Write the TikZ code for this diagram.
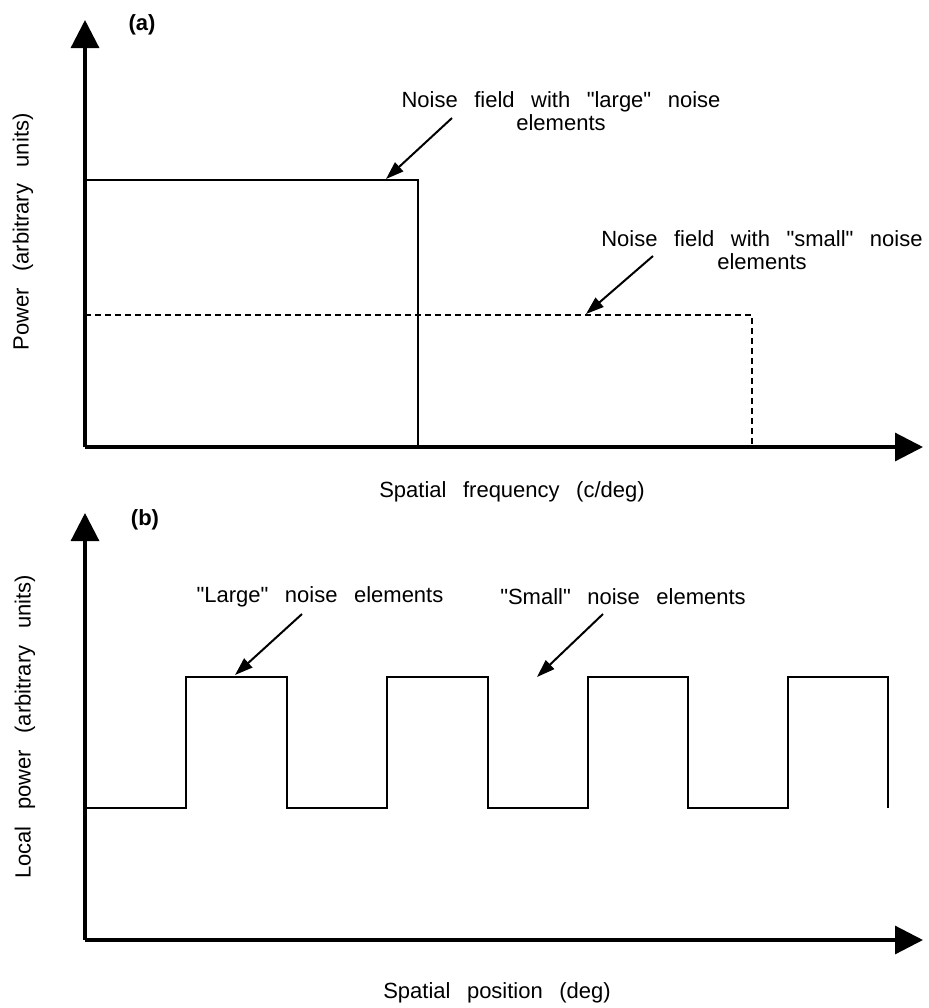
\documentclass[tikz,border=0pt]{standalone}
\usepackage{fontspec}
\setmainfont{Liberation Sans}[WordSpace=2.7,Ligatures=TeXOff]
\usetikzlibrary{arrows.meta}

\begin{document}
\begin{tikzpicture}[x=0.5pt,y=-0.5pt,font=\fontsize{11}{11.5}\selectfont]
    \tikzstyle{axis}=[line width=1.6pt,-{Triangle[width=14pt,length=14pt]}]
    \tikzstyle{trace}=[line width=1pt]
    \tikzstyle{broad}=[trace,dash pattern=on 3pt off 2pt]
    \tikzstyle{pointer}=[line width=1pt,-{Triangle[width=6pt,length=9pt]}]
    \tikzstyle{annot}=[align=center,inner sep=0pt]
    \tikzstyle{panel}=[inner sep=0pt,font=\fontsize{11}{11}\selectfont\bfseries]

    \useasboundingbox (0,0) rectangle (928,1008);

    % Panel (a): the two power spectra
    \coordinate (Oa) at (85,447);
    \coordinate (Ya) at (85,20);
    \coordinate (Xa) at (923,447);
    \draw[axis] (Oa) -- (Ya);
    \draw[axis] (Oa) -- (Xa);
    \node[panel] (a) at (142,25) {(a)};

    % Narrow band (large elements) and broad band (small elements)
    \draw[trace] (85,180) -| (418,447);
    \draw[broad] (85,315) -| (752,447);

    \node[annot] (large spec) at (561,111) {Noise field with "large" noise\\elements};
    \coordinate (large spec tail) at (452,118);
    \coordinate (large spec tip) at (386,179);
    \draw[pointer] (large spec tail) -- (large spec tip);

    \node[annot] (small spec) at (762,250) {Noise field with "small" noise\\elements};
    \coordinate (small spec tail) at (653,256);
    \coordinate (small spec tip) at (586,314);
    \draw[pointer] (small spec tail) -- (small spec tip);

    \node[rotate=90] (ya) at (23,232) {Power (arbitrary units)};
    \node (xa) at (512,492) {Spatial frequency (c/deg)};

    % Panel (b): local power along the field
    \coordinate (Ob) at (85,940);
    \coordinate (Yb) at (85,513);
    \coordinate (Xb) at (923,940);
    \draw[axis] (Ob) -- (Yb);
    \draw[axis] (Ob) -- (Xb);
    \node[panel] (b) at (145,520) {(b)};

    % Alternating large and small patches
    \draw[trace] (85,808)
        foreach \up/\down in {186/287,387/488,588/688,788/888}
        { -- (\up,808) -- (\up,677) -- (\down,677) -- (\down,808) };

    \node (large pos) at (320,597) {"Large" noise elements};
    \coordinate (large pos tail) at (302,614);
    \coordinate (large pos tip) at (235,675);
    \draw[pointer] (large pos tail) -- (large pos tip);

    \node (small pos) at (623,597) {"Small" noise elements};
    \coordinate (small pos tail) at (603,614);
    \coordinate (small pos tip) at (537,677);
    \draw[pointer] (small pos tail) -- (small pos tip);

    \node[rotate=90] (yb) at (25,727) {Local power (arbitrary units)};
    \node (xb) at (497,993) {Spatial position (deg)};
\end{tikzpicture}
\end{document}
